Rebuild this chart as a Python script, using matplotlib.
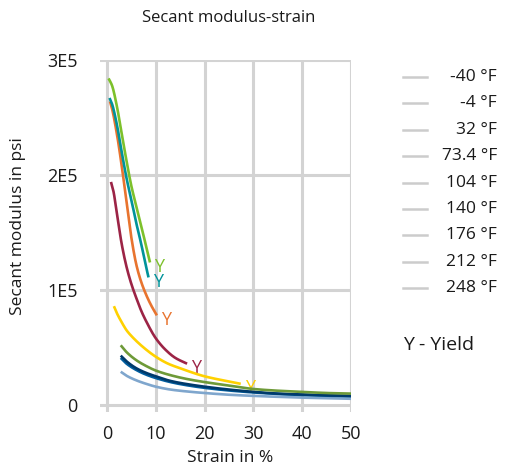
import matplotlib
matplotlib.use("Agg")
import numpy as np
import matplotlib.pyplot as plt
from matplotlib.lines import Line2D

plt.rcParams['font.family'] = ['Open Sans', 'DejaVu Sans']

# ---- data (modulus in units of 1E5 psi) ----
labels = ["-40 °F", "-4 °F", "32 °F", "73.4 °F", "104 °F", "140 °F", "176 °F", "212 °F", "248 °F"]
colors = ["#7dc12b", "#00939a", "#e8742f", "#9c2446", "#ffd100", "#6e9a38", "#003a6b", "#005d9e", "#7fa6cd"]

s_m40 = [0.3, 1, 2, 3, 4, 5, 6, 7, 8, 8.8]
m_m40 = [2.84, 2.78, 2.60, 2.36, 2.12, 1.90, 1.73, 1.56, 1.38, 1.24]

s_m4 = [0.5, 1, 2, 3, 4, 5, 6, 7, 8, 8.5]
m_m4 = [2.67, 2.62, 2.44, 2.20, 1.97, 1.78, 1.58, 1.40, 1.20, 1.11]

s_32 = [0.6, 1, 2, 3, 4, 5, 6, 7, 8, 9, 10.2]
m_32 = [2.64, 2.58, 2.36, 2.08, 1.76, 1.45, 1.22, 1.07, 0.96, 0.87, 0.78]

s_73 = [0.8, 1.3, 2, 3, 4, 5, 6, 7, 8, 10, 12, 14, 16.4]
m_73 = [1.94, 1.86, 1.67, 1.40, 1.20, 1.05, 0.93, 0.82, 0.73, 0.58, 0.48, 0.41, 0.36]

s_104 = [1.4, 2, 3, 4, 5, 7.5, 10, 12.5, 15, 20, 25, 27.4]
m_104 = [0.86, 0.80, 0.72, 0.65, 0.60, 0.50, 0.42, 0.36, 0.32, 0.25, 0.205, 0.185]

s_hot = [2.8, 4, 6, 8, 10, 13, 16, 20, 25, 30, 35, 40, 45, 50]
m_140 = [0.52, 0.46, 0.39, 0.34, 0.30, 0.26, 0.23, 0.20, 0.17, 0.14, 0.125, 0.115, 0.105, 0.10]
m_176 = [0.43, 0.38, 0.32, 0.28, 0.25, 0.21, 0.185, 0.16, 0.135, 0.115, 0.10, 0.092, 0.085, 0.08]
m_212 = [0.41, 0.36, 0.305, 0.265, 0.235, 0.20, 0.175, 0.15, 0.127, 0.11, 0.097, 0.088, 0.082, 0.077]
m_248 = [0.29, 0.255, 0.215, 0.185, 0.16, 0.135, 0.12, 0.105, 0.09, 0.08, 0.072, 0.065, 0.06, 0.055]

series = [
    (s_m40, m_m40, True),
    (s_m4, m_m4, True),
    (s_32, m_32, True),
    (s_73, m_73, True),
    (s_104, m_104, True),
    (s_hot, m_140, False),
    (s_hot, m_176, False),
    (s_hot, m_212, False),
    (s_hot, m_248, False),
]

x_ticks = [0, 10, 20, 30, 40, 50]
y_ticks = [0, 1, 2, 3]
y_ticklabels = ["0", "1E5", "2E5", "3E5"]


def pchip(x, y, n=300):
    """Monotone cubic curve through the given points (for smooth drawing)."""
    x = np.asarray(x, float)
    y = np.asarray(y, float)
    h = np.diff(x)
    d = np.diff(y) / h
    m = np.zeros_like(y)
    for k in range(1, len(x) - 1):
        if d[k - 1] * d[k] > 0:
            w1 = 2 * h[k] + h[k - 1]
            w2 = h[k] + 2 * h[k - 1]
            m[k] = (w1 + w2) / (w1 / d[k - 1] + w2 / d[k])
    m[0] = d[0]
    m[-1] = d[-1]
    xs = np.linspace(x[0], x[-1], n)
    idx = np.clip(np.searchsorted(x, xs) - 1, 0, len(x) - 2)
    t = (xs - x[idx]) / h[idx]
    h00 = 2 * t**3 - 3 * t**2 + 1
    h10 = t**3 - 2 * t**2 + t
    h01 = -2 * t**3 + 3 * t**2
    h11 = t**3 - t**2
    ys = h00 * y[idx] + h10 * h[idx] * m[idx] + h01 * y[idx + 1] + h11 * h[idx] * m[idx + 1]
    return xs, ys


W, H = 511, 469
fig = plt.figure(figsize=(W / 100, H / 100), dpi=100)
ax = fig.add_axes([100 / W, 1 - 412 / H, 251 / W, 352 / H])

grid_c = "#d3d3d3"
for xt in x_ticks:
    ax.axvline(xt, color=grid_c, lw=2.2, zorder=0)
for yt in y_ticks:
    ax.axhline(yt, color=grid_c, lw=2.2, zorder=0)

for (s, m, yl), c in reversed(list(zip(series, colors))):
    xs, ys = pchip(s, m)
    ax.plot(xs, ys, color=c, lw=1.9, solid_capstyle='butt', zorder=2)
for (s, m, yl), c in zip(series, colors):
    if yl:
        ax.annotate("Y", xy=(s[-1], m[-1]), xytext=(3, -3), textcoords="offset points",
                    color=c, fontsize=13, ha="left", va="center", zorder=1)

ax.set_xlim(-1.45, 50)
ax.set_ylim(-0.06, 3)
ax.set_xticks(x_ticks)
ax.set_yticks(y_ticks)
ax.set_yticklabels(y_ticklabels)
for sp in ax.spines.values():
    sp.set_visible(False)
ax.tick_params(length=0, labelsize=13, colors="#1a1a1a")
ax.tick_params(axis="x", pad=9)
ax.tick_params(axis="y", pad=16)

fig.text(230 / W, 1 - 458 / H, "Strain in %", ha="center", va="center",
         fontsize=12.5, color="#1a1a1a")
fig.text(18 / W, 1 - 226 / H, "Secant modulus in psi", ha="center", va="center",
         rotation=90, fontsize=12.5, color="#1a1a1a")
fig.text(229 / W, 1 - 18 / H, "Secant modulus-strain", ha="center", va="center",
         fontsize=12, color="#1a1a1a")

# legend (manual, right-aligned labels, grey keys)
y0 = 77
dy = 26.4
for i, lab in enumerate(labels):
    yy = 1 - (y0 + i * dy) / H
    fig.add_artist(Line2D([403 / W, 427 / W], [yy, yy], color="#cccccc", lw=1.8,
                          transform=fig.transFigure))
    fig.text(497 / W, yy, lab, ha="right", va="center", fontsize=12.5, color="#1a1a1a")
fig.text(403 / W, 1 - 345 / H, "Y - Yield", ha="left", va="center", fontsize=14,
         color="#1a1a1a")

fig.savefig("out.png", dpi=100)
